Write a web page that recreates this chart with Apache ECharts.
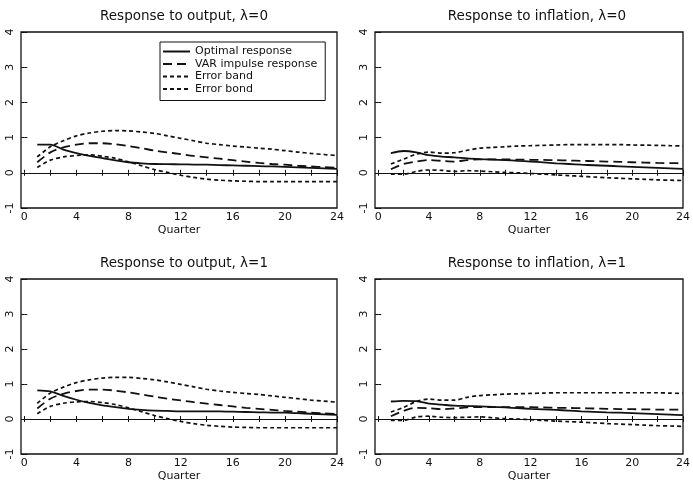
<!DOCTYPE html>
<html><head><meta charset="utf-8">
<script src="https://cdn.jsdelivr.net/npm/echarts@6/dist/echarts.min.js"></script>
<style>html,body{margin:0;padding:0;background:#fff}#c{width:693px;height:488px}</style>
</head><body><div id="c"></div>
<script>
const quarters = [1,2,3,4,5,6,7,8,9,10,11,12,13,14,15,16,17,18,19,20,21,22,23,24];
const xTickValues = [0,2,4,6,8,10,12,14,16,18,20,22,24];
const xLabelValues = [0,4,8,12,16,20,24];
const panelTitles = ['Response to output, \u03bb=0','Response to inflation, \u03bb=0','Response to output, \u03bb=1','Response to inflation, \u03bb=1'];
const seriesNames = ['Optimal response','VAR impulse response','Error band','Error bond'];

// Response to output, lambda=0
const optOut0 = [0.80,0.80,0.66,0.56,0.48,0.42,0.35,0.30,0.27,0.25,0.245,0.24,0.235,0.23,0.22,0.21,0.20,0.19,0.18,0.17,0.155,0.14,0.125,0.11];
const varOut0 = [0.30,0.58,0.72,0.80,0.84,0.84,0.81,0.76,0.70,0.63,0.58,0.53,0.48,0.44,0.40,0.36,0.32,0.28,0.25,0.23,0.20,0.18,0.16,0.14];
const upOut0  = [0.45,0.74,0.91,1.05,1.13,1.18,1.20,1.19,1.16,1.12,1.05,0.98,0.91,0.84,0.80,0.76,0.73,0.70,0.67,0.63,0.59,0.55,0.52,0.49];
const loOut0  = [0.15,0.36,0.45,0.49,0.51,0.47,0.41,0.31,0.20,0.09,0.01,-0.07,-0.13,-0.18,-0.21,-0.23,-0.24,-0.25,-0.25,-0.25,-0.25,-0.25,-0.25,-0.25];
// Response to inflation, lambda=0
const optInf0 = [0.56,0.62,0.58,0.50,0.46,0.44,0.41,0.39,0.375,0.36,0.34,0.32,0.295,0.27,0.25,0.23,0.215,0.20,0.185,0.17,0.155,0.14,0.125,0.11];
const varInf0 = [0.10,0.25,0.32,0.36,0.34,0.32,0.36,0.38,0.38,0.38,0.375,0.37,0.365,0.36,0.35,0.34,0.33,0.32,0.31,0.30,0.29,0.28,0.275,0.27];
const upInf0  = [0.25,0.39,0.53,0.59,0.56,0.57,0.64,0.70,0.72,0.74,0.76,0.77,0.78,0.79,0.80,0.80,0.80,0.80,0.80,0.79,0.785,0.78,0.77,0.76];
const loInf0  = [-0.04,-0.04,0.04,0.08,0.07,0.04,0.06,0.05,0.03,0.01,0.00,-0.02,-0.04,-0.06,-0.08,-0.10,-0.12,-0.14,-0.155,-0.17,-0.185,-0.20,-0.21,-0.22];
// Response to output, lambda=1
const optOut1 = [0.82,0.79,0.66,0.55,0.46,0.39,0.34,0.29,0.26,0.24,0.23,0.22,0.22,0.22,0.215,0.21,0.20,0.19,0.185,0.18,0.165,0.15,0.135,0.12];
const varOut1 = [0.30,0.58,0.72,0.80,0.84,0.84,0.81,0.76,0.70,0.64,0.58,0.53,0.48,0.44,0.40,0.36,0.32,0.29,0.26,0.23,0.21,0.18,0.16,0.14];
const upOut1  = [0.45,0.74,0.91,1.04,1.12,1.17,1.19,1.19,1.16,1.12,1.06,0.99,0.92,0.85,0.80,0.76,0.73,0.70,0.66,0.62,0.58,0.54,0.51,0.48];
const loOut1  = [0.15,0.36,0.45,0.49,0.50,0.47,0.41,0.32,0.21,0.10,0.01,-0.07,-0.13,-0.18,-0.21,-0.23,-0.24,-0.25,-0.25,-0.25,-0.25,-0.25,-0.25,-0.25];
// Response to inflation, lambda=1
const optInf1 = [0.50,0.52,0.51,0.44,0.41,0.38,0.37,0.36,0.345,0.33,0.31,0.29,0.275,0.26,0.24,0.22,0.205,0.19,0.18,0.17,0.155,0.14,0.125,0.11];
const varInf1 = [0.08,0.23,0.32,0.31,0.28,0.30,0.33,0.34,0.34,0.34,0.34,0.34,0.33,0.32,0.315,0.31,0.30,0.29,0.285,0.28,0.275,0.27,0.27,0.27];
const upInf1  = [0.20,0.33,0.50,0.57,0.54,0.54,0.62,0.67,0.69,0.71,0.72,0.73,0.74,0.75,0.75,0.75,0.75,0.75,0.75,0.75,0.75,0.75,0.74,0.73];
const loInf1  = [-0.04,-0.04,0.06,0.08,0.05,0.04,0.05,0.06,0.035,0.01,0.00,-0.02,-0.04,-0.06,-0.075,-0.09,-0.11,-0.13,-0.145,-0.16,-0.175,-0.19,-0.20,-0.21];

const panels = [
  [optOut0, varOut0, upOut0, loOut0],
  [optInf0, varInf0, upInf0, loInf0],
  [optOut1, varOut1, upOut1, loOut1],
  [optInf1, varInf1, upInf1, loInf1]
];

const FONT = 'DejaVu Sans';
const INK = '#111';
const grids = [
  {left: 21, top: 32, width: 316, height: 176},
  {left: 375, top: 32, width: 314, height: 176},
  {left: 21, top: 279, width: 316, height: 175},
  {left: 375, top: 279, width: 314, height: 175}
];

const option = {
  backgroundColor: '#fff',
  animation: false,
  textStyle: {fontFamily: FONT, color: INK},
  title: panelTitles.map((t, i) => ({
    text: t,
    left: grids[i].left + grids[i].width / 2,
    textAlign: 'center',
    top: grids[i].top - 28,
    textStyle: {fontFamily: FONT, fontSize: 13.5, fontWeight: 'normal', color: INK}
  })),
  legend: {
    show: true,
    data: seriesNames,
    orient: 'vertical',
    left: 160, top: 42,
    itemWidth: 27, itemHeight: 10, itemGap: 1.5,
    borderColor: INK, borderWidth: 1,
    padding: [4, 8, 6, 2],
    itemStyle: {opacity: 0},
    textStyle: {fontFamily: FONT, fontSize: 11, color: INK, padding: [0, 0, 0, 0]},
    backgroundColor: '#fff'
  },
  grid: grids.map(g => Object.assign({show: true, borderColor: INK, borderWidth: 1.3, backgroundColor: 'transparent'}, g)),
  xAxis: [],
  yAxis: [],
  series: []
};

grids.forEach((g, i) => {
  option.xAxis.push({
    type: 'value', gridIndex: i, min: -0.25, max: 24, position: 'bottom',
    name: 'Quarter', nameLocation: 'middle', nameGap: 17,
    nameTextStyle: {fontFamily: FONT, fontSize: 11, color: INK},
    axisLine: {show: false},
    axisTick: {show: true, inside: true, length: 3, customValues: xTickValues, lineStyle: {color: INK}},
    axisLabel: {show: true, customValues: xLabelValues, fontFamily: FONT, fontSize: 11, color: INK, margin: 4},
    splitLine: {show: false}
  });
  option.xAxis.push({
    type: 'value', gridIndex: i, min: -0.25, max: 24, position: 'top',
    axisLine: {show: false},
    axisTick: {show: true, inside: true, length: 3, customValues: xTickValues, lineStyle: {color: INK}},
    axisLabel: {show: false},
    splitLine: {show: false}
  });
  option.yAxis.push({
    type: 'value', gridIndex: i, min: -1, max: 4, interval: 1, position: 'left',
    axisLine: {show: false},
    axisTick: {show: true, inside: true, length: 3, lineStyle: {color: INK}},
    axisLabel: {show: true, rotate: 90, fontFamily: FONT, fontSize: 11, color: INK, margin: 5},
    splitLine: {show: false}
  });
  option.yAxis.push({
    type: 'value', gridIndex: i, min: -1, max: 4, interval: 1, position: 'right',
    axisLine: {show: false},
    axisTick: {show: true, inside: true, length: 3, lineStyle: {color: INK}},
    axisLabel: {show: false},
    splitLine: {show: false}
  });
  const styles = [
    {type: 'solid', width: 1.8},
    {type: [9, 5], width: 1.8},
    {type: [4, 3], width: 1.7},
    {type: [4, 3], width: 1.7}
  ];
  panels[i].forEach((vals, k) => {
    const s = {
      name: seriesNames[k], type: 'line',
      xAxisIndex: i * 2, yAxisIndex: i * 2,
      data: quarters.map((q, j) => [q, vals[j]]),
      symbol: 'none', smooth: 0.3,
      lineStyle: Object.assign({color: INK}, styles[k]),
      itemStyle: {color: INK},
      z: 3
    };
    if (k === 0) {
      s.markLine = {
        silent: true, symbol: 'none', animation: false,
        label: {show: false},
        lineStyle: {color: INK, type: 'solid', width: 1},
        data: [{yAxis: 0}]
      };
    }
    option.series.push(s);
  });
});

const chart = echarts.init(document.getElementById('c'), null, {renderer: 'canvas'});
chart.setOption(option);
</script>
</body></html>
